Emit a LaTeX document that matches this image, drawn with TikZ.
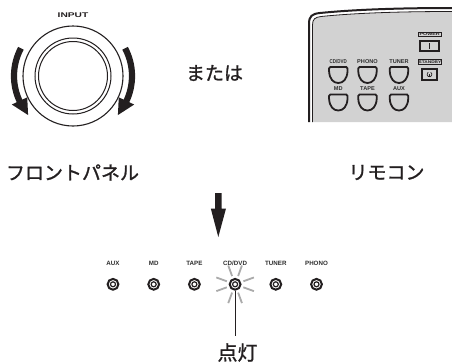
\documentclass[tikz,border=0pt]{standalone}
\usepackage{fontspec}
\usepackage{graphicx}
\setmainfont{Liberation Sans}
\newfontfamily\jp[FakeBold=1.2]{Noto Sans CJK JP}
\definecolor{remgray}{HTML}{D2D2D2}
\definecolor{inkblack}{HTML}{231F20}
\definecolor{lbltext}{HTML}{2E2E2E}

\tikzset{
  % rounded-bottom key of the remote control
  rbtn/.pic={
    \draw[line width=1.8pt, inkblack]
      (-8,0) -- (8,0) .. controls (9.6,0) and (9.4,2.5) .. (9.2,4.5)
      .. controls (8.7,12) and (5,16) .. (0,16)
      .. controls (-5,16) and (-8.7,12) .. (-9.2,4.5)
      .. controls (-9.4,2.5) and (-9.6,0) .. (-8,0) -- cycle;
  },
  lbl/.style={font=\bfseries\fontsize{6.2}{6.2}\selectfont, text=lbltext, inner sep=0pt},
  rlbl/.style={font=\bfseries\fontsize{5.6}{5.6}\selectfont, text=lbltext, inner sep=0pt},
  jtext/.style={font=\jp\fontsize{19}{19}\selectfont, text=inkblack, inner sep=0pt},
  led/.style={circle, draw=inkblack, line width=2pt, minimum size=10.8pt, inner sep=0pt},
  ledcore/.style={draw=inkblack, line width=1.2pt},
  ray/.style={draw=black!33, line width=1.8pt},
  knobarrow/.style={draw=inkblack, line width=6.2pt},
}

\begin{document}
\begin{tikzpicture}[x=1pt, y=-1pt]
  \useasboundingbox (0,0) rectangle (452,362);
  \fill[white] (0,0) rectangle (452,362);

  % ---------- front panel INPUT knob ----------
  \node[font=\bfseries\fontsize{6.8}{6.8}\selectfont, text=inkblack, xscale=1.5, inner sep=0pt]
    (input) at (73,15.5) {INPUT};
  \node[circle, draw=inkblack, line width=1.1pt, minimum size=100pt, inner sep=0pt] (knob) at (73,76) {};
  \draw[inkblack, line width=1pt] (knob.center) circle[radius=38];
  \draw[inkblack, line width=1pt] (knob.center) circle[radius=34.5];

  % turning arrows on both sides of the knob
  \draw[knobarrow] ([shift={(knob.center)}]-152:59) arc[start angle=-152, end angle=-207, radius=59];
  \fill[inkblack] ([shift={(knob.center)}]-205:50.5) -- ([shift={(knob.center)}]-205:67.5)
    -- ([shift={(knob.center)}]-221:59.5) -- cycle;
  \draw[knobarrow] ([shift={(knob.center)}]-28:59) arc[start angle=-28, end angle=27, radius=59];
  \fill[inkblack] ([shift={(knob.center)}]25:50.5) -- ([shift={(knob.center)}]25:67.5)
    -- ([shift={(knob.center)}]41:59.5) -- cycle;

  \node[jtext] (mataha) at (214.5,73) {または};

  % ---------- remote control ----------
  \fill[remgray] (312.5,122) -- (312.5,25) .. controls (312.5,19) and (315,17.3) .. (321,16.5)
    .. controls (360,12.5) and (410,11.5) .. (452,11.5) -- (452,122) -- cycle;
  \draw[inkblack, line width=0.8pt] (312.5,122) -- (312.5,25) .. controls (312.5,19) and (315,17.3) .. (321,16.5)
    .. controls (360,12.5) and (410,11.5) .. (452,11.5);
  \draw[inkblack, line width=2pt] (309,122) -- (309,24) .. controls (309,16) and (312,13.8) .. (320,13)
    .. controls (360,9) and (410,8) .. (452,8);

  \node[rlbl, xscale=0.8] (rcd) at (338.3,62) {CD/DVD};
  \node[rlbl] (rphono) at (367.5,62) {PHONO};
  \node[rlbl] (rtuner) at (399,62) {TUNER};
  \node[rlbl] (rmd) at (338.3,88.5) {MD};
  \node[rlbl] (rtape) at (367.5,88.5) {TAPE};
  \node[rlbl] (raux) at (399,88.5) {AUX};
  \pic at (338.3,67) {rbtn};
  \pic at (367.5,67) {rbtn};
  \pic at (399,67) {rbtn};
  \pic at (338.3,94.5) {rbtn};
  \pic at (367.5,94.5) {rbtn};
  \pic at (399,94.5) {rbtn};

  % POWER / STANDBY keys
  \node[draw=inkblack, line width=0.5pt, minimum width=23.5pt, minimum height=4.8pt, inner sep=0pt,
        font=\bfseries\fontsize{3.8}{3.8}\selectfont, text=inkblack]
    (pwrlbl) at (429.7,34.2) {\scalebox{1.4}[1]{POWER}};
  \node[draw=inkblack, line width=1.6pt, minimum width=19.4pt, minimum height=10.1pt, inner sep=0pt]
    (pwr) at (429.5,45.8) {};
  \draw[inkblack, line width=0.8pt] ([yshift=-3pt]pwr.center) -- ([yshift=3pt]pwr.center);
  \node[draw=inkblack, line width=0.7pt, minimum width=23.5pt, minimum height=5.4pt, inner sep=0pt,
        font=\bfseries\fontsize{3.8}{3.8}\selectfont, text=inkblack]
    (sbylbl) at (430,62) {\scalebox{1.25}[1]{STANDBY}};
  \node[draw=inkblack, line width=1.6pt, minimum width=15.4pt, minimum height=11.1pt, inner sep=0pt]
    (sby) at (429.5,74.4) {};
  \draw[inkblack, line width=0.7pt] ([shift={(sby.center)}]-60:2.4) arc[start angle=-60, end angle=240, radius=2.4];
  \draw[inkblack, line width=0.7pt] ([yshift=0.3pt]sby.center) -- ([yshift=-3pt]sby.center);

  % ---------- captions ----------
  \node[jtext] (fp) at (72.5,172.5) {フロントパネル};
  \node[jtext] (rc) at (386.5,172.5) {リモコン};

  % big downward arrow
  \fill[inkblack] (215,193) -- (221.7,193) -- (221.7,208.5) -- (226,208.5) -- (218.3,237)
    -- (210.8,208.5) -- (215,208.5) -- cycle;

  % ---------- input indicators ----------
  \node[lbl] (taux) at (113,263.3) {AUX};
  \node[lbl] (tmd) at (153.7,263.3) {MD};
  \node[lbl] (ttape) at (194.4,263.3) {TAPE};
  \node[lbl] (tcd) at (235.1,263.3) {CD/DVD};
  \node[lbl] (ttuner) at (275.8,263.3) {TUNER};
  \node[lbl] (tphono) at (316.5,263.3) {PHONO};

  % flash rays round the lit indicator
  \foreach \a in {20,70,110,160,200,250,290,340}
    \draw[ray] ([shift={(235.1,284.3)}]\a:8.8) -- ([shift={(235.1,284.3)}]\a:20);

  \node[led] (laux) at (113,284.3) {};
  \node[led] (lmd) at (153.7,284.3) {};
  \node[led] (ltape) at (194.4,284.3) {};
  \node[led] (lcd) at (235.1,284.3) {};
  \node[led] (ltuner) at (275.8,284.3) {};
  \node[led] (lphono) at (316.5,284.3) {};
  \foreach \n in {laux,lmd,ltape,lcd,ltuner,lphono}
    \draw[ledcore] (\n.center) circle[radius=2.5];

  \node[jtext, font=\jp\fontsize{20}{20}\selectfont] (lit) at (237.5,352.5) {点灯};
  \draw[inkblack, line width=0.8pt, shorten >=7pt] (lcd.south) -- (lcd.south |- lit.north);
\end{tikzpicture}
\end{document}
